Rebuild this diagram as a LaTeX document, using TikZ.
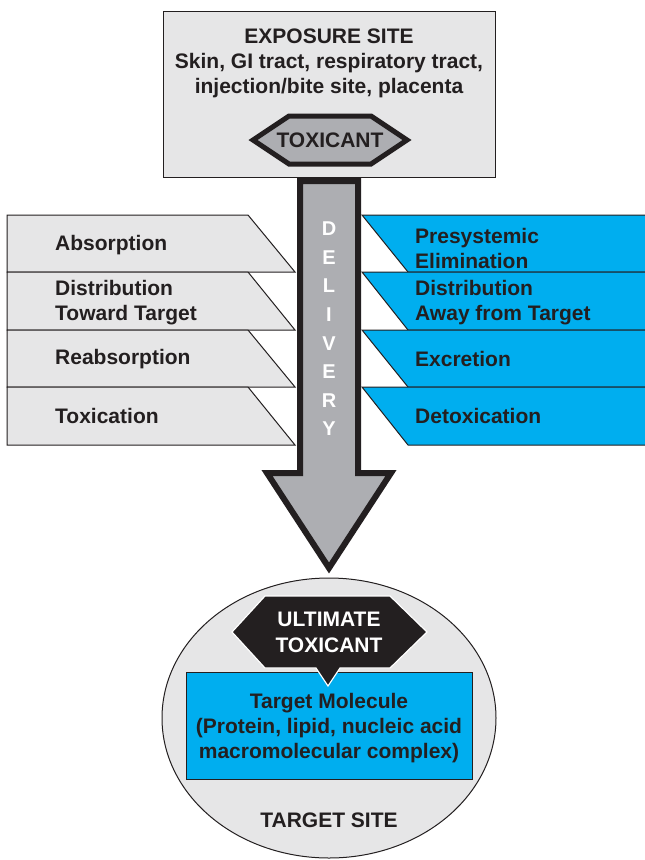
\documentclass[tikz,border=0pt]{standalone}
\usepackage{fontspec}
\setmainfont{Liberation Sans}
\usetikzlibrary{positioning}
\definecolor{boxgray}{HTML}{E6E6E7}
\definecolor{arrowgray}{HTML}{ADAEB2}
\definecolor{cyanbox}{HTML}{00AEEF}
\definecolor{ink}{HTML}{231F20}

\begin{document}
\begin{tikzpicture}[x=1pt, y=-1pt]
    \tikzset{
        txt/.style = {font=\bfseries\fontsize{21}{25}\selectfont, text=ink, inner sep=0pt, align=center},
        rowtext/.style = {txt, anchor=west, align=left},
        grayrow/.style = {draw=ink, line width=1pt, fill=boxgray},
        bluerow/.style = {draw=ink, line width=1pt, fill=cyanbox},
        hexagon/.style = {line width=5pt, line join=miter, draw=ink, fill=arrowgray}
    }
    \useasboundingbox (0,0) rectangle (645,860);

    % exposure site
    \draw [grayrow] (163,11) rectangle (495,177);
    \node (exposure) [txt] at (329,63) {EXPOSURE SITE\\Skin, GI tract, respiratory tract,\\injection/bite site, placenta};
    \draw [hexagon] (253,140) -- (289,116) -- (371,116) -- (407,140) -- (371,164) -- (289,164) -- cycle;
    \node (toxicant) [txt] at (330,140) {TOXICANT};

    % left side
    \draw [grayrow] (7,215) -- (248,215) -- (295,272) -- (7,272) -- cycle;
    \draw [grayrow] (7,272) -- (248,272) -- (295,330) -- (7,330) -- cycle;
    \draw [grayrow] (7,330) -- (248,330) -- (295,387) -- (7,387) -- cycle;
    \draw [grayrow] (7,387) -- (248,387) -- (295,445) -- (7,445) -- cycle;
    \node (absorption) [rowtext] at (55,245) {Absorption};
    \node (toward) [rowtext] at (55,303) {Distribution\\Toward Target};
    \node (reabsorption) [rowtext] at (55,359) {Reabsorption};
    \node (toxication) [rowtext] at (55,416) {Toxication};

    % right side
    \draw [bluerow] (362,215) -- (650,215) -- (650,272) -- (408,272) -- cycle;
    \draw [bluerow] (362,272) -- (650,272) -- (650,330) -- (408,330) -- cycle;
    \draw [bluerow] (362,330) -- (650,330) -- (650,387) -- (408,387) -- cycle;
    \draw [bluerow] (362,387) -- (650,387) -- (650,445) -- (408,445) -- cycle;
    \node (presystemic) [rowtext] at (415,248) {Presystemic\\Elimination};
    \node (away) [rowtext] at (415,303) {Distribution\\Away from Target};
    \node (excretion) [rowtext] at (415,359) {Excretion};
    \node (detoxication) [rowtext] at (415,416) {Detoxication};

    % delivery arrow
    \draw [hexagon, line width=6pt] (300,181) -- (358,181) -- (358,473) -- (391,473) -- (329,568)
        -- (267,473) -- (300,473) -- cycle;
    \node (delivery) [txt, text=white, font=\bfseries\fontsize{20}{28.6}\selectfont] at (329,329)
        {D\\E\\L\\I\\V\\E\\R\\Y};

    % target site
    \draw [grayrow] (329,718) ellipse [x radius=167, y radius=140];
    \draw [bluerow] (186,672) rectangle (472,779);
    \draw [fill=ink, draw=white, line width=1.2pt] (232,632) -- (265,596) -- (390,596) -- (427,632)
        -- (390,668) -- (340,668) -- (328,686) -- (316,668) -- (265,668) -- cycle;
    \node (ultimate) [txt, text=white, font=\bfseries\fontsize{21}{26}\selectfont] at (329,632) {ULTIMATE\\TOXICANT};
    \node (molecule) [txt] at (329,728) {Target Molecule\\(Protein, lipid, nucleic acid\\macromolecular complex)};
    \node (site) [txt] at (329,820) {TARGET SITE};
\end{tikzpicture}
\end{document}
